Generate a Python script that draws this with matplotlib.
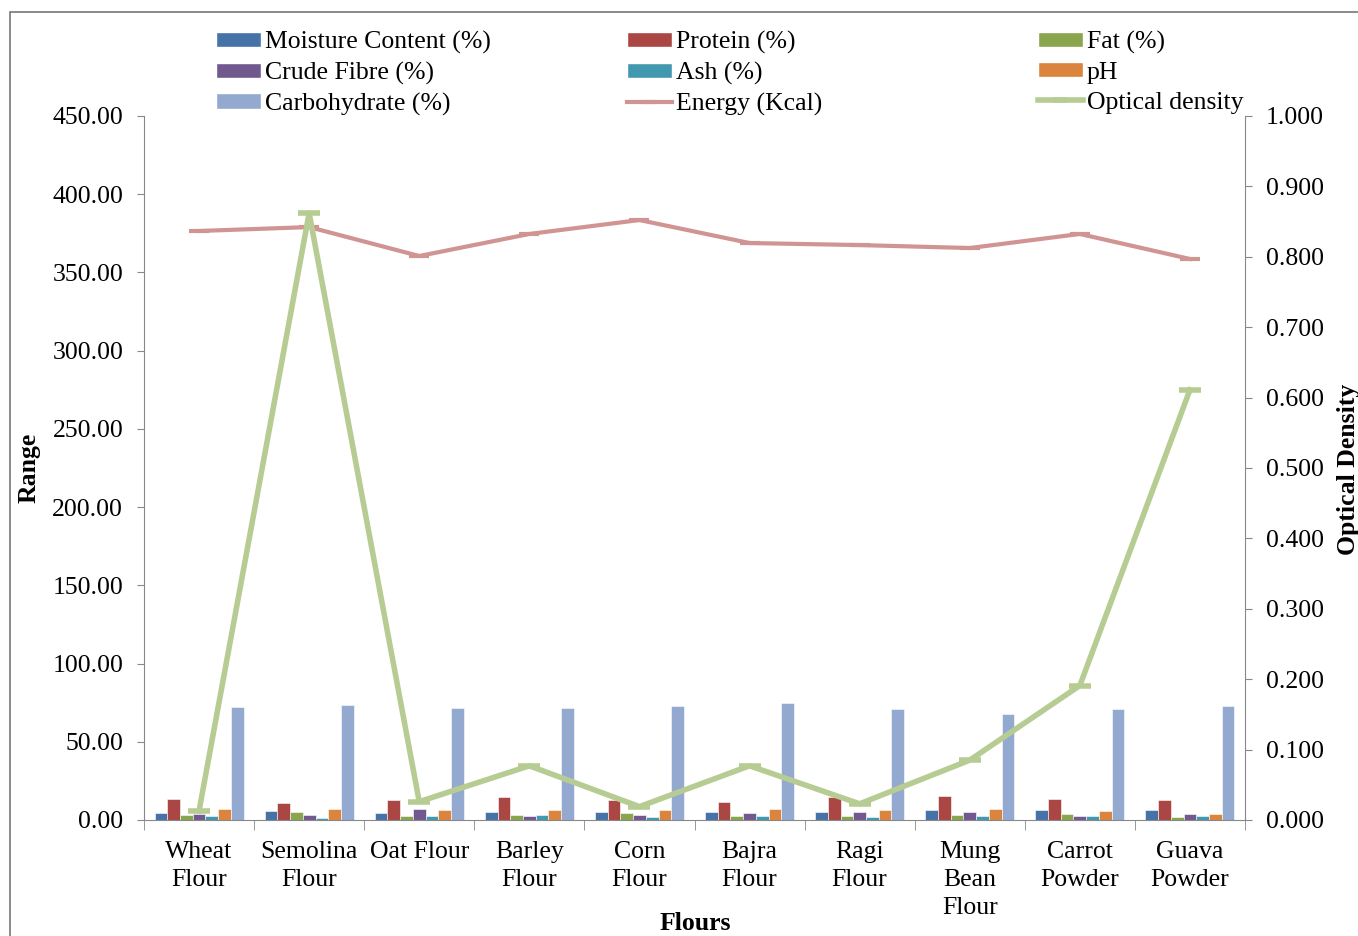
import matplotlib
matplotlib.use("Agg")
import matplotlib.pyplot as plt
import numpy as np
from matplotlib.patches import Rectangle, Patch
from matplotlib.lines import Line2D

plt.rcParams['font.family'] = ['Liberation Serif', 'DejaVu Serif']
plt.rcParams['font.size'] = 18.5

categories = ["Wheat\nFlour", "Semolina\nFlour", "Oat Flour", "Barley\nFlour", "Corn\nFlour",
              "Bajra\nFlour", "Ragi\nFlour", "Mung\nBean\nFlour", "Carrot\nPowder", "Guava\nPowder"]

moisture = [4.3, 5.5, 4.3, 4.9, 4.9, 4.9, 4.9, 6.2, 6.2, 6.2]
protein = [13.4, 10.9, 12.8, 14.7, 12.8, 11.5, 14.7, 15.3, 13.4, 12.8]
fat = [3.4, 4.9, 2.8, 3.4, 4.7, 2.8, 2.8, 3.4, 4.0, 2.1]
crude_fibre = [4.0, 3.4, 6.8, 2.8, 3.4, 4.3, 4.9, 4.9, 2.8, 4.0]
ash = [2.3, 1.5, 2.8, 3.4, 2.1, 2.3, 2.1, 2.8, 2.8, 2.8]
ph = [6.8, 6.8, 6.2, 6.2, 6.2, 7.0, 6.2, 6.8, 5.5, 4.0]
carbohydrate = [72.2, 73.5, 71.4, 71.4, 72.9, 74.8, 70.7, 67.5, 70.7, 72.9]
energy = [376.5, 379.0, 360.5, 374.6, 383.5, 368.8, 367.5, 365.6, 374.6, 358.6]
optical_density = [0.013, 0.862, 0.026, 0.077, 0.019, 0.077, 0.023, 0.085, 0.191, 0.611]

bar_series = [
    ("Moisture Content (%)", moisture, "#4572A7"),
    ("Protein (%)", protein, "#AA4643"),
    ("Fat (%)", fat, "#89A54E"),
    ("Crude Fibre (%)", crude_fibre, "#71588F"),
    ("Ash (%)", ash, "#4198AF"),
    ("pH", ph, "#DB843D"),
    ("Carbohydrate (%)", carbohydrate, "#93A9CF"),
]
energy_color = "#D09493"
od_color = "#B7CC93"

fig = plt.figure(figsize=(13.58, 9.36), dpi=100)
ax = fig.add_axes([144/1358, 1-820/936, (1245-144)/1358, (820-116)/936])

x = np.arange(len(categories))
n = len(bar_series)
bw = 1.0 / (n + 1.65)
handles = {}
for i, (name, vals, col) in enumerate(bar_series):
    off = (i - (n - 1) / 2) * bw
    ax.bar(x + off, vals, bw, color=col, edgecolor="white", linewidth=0.4, zorder=2)
    handles[name] = Patch(facecolor=col, edgecolor="white")

ax.plot(x, energy, color=energy_color, lw=3, marker="_", ms=14, mew=3, zorder=3)
handles["Energy (Kcal)"] = Line2D([], [], color=energy_color, lw=3, marker="_", ms=10, mew=3)

ax.set_xlim(-0.5, len(categories) - 0.5)
ax.set_ylim(0, 450)
ax.set_yticks(np.arange(0, 451, 50))
ax.set_yticklabels([f"{v:.2f}" for v in np.arange(0, 451, 50)])
ax.set_xticks(x)
ax.set_xticklabels(categories, linespacing=1.35)
ax.set_xticks(np.arange(-0.5, len(categories), 1), minor=True)
ax.tick_params(axis="x", which="major", length=0, pad=15)
ax.tick_params(axis="x", which="minor", length=7, color="#888888", direction="out")
ax.tick_params(axis="y", length=5, color="#888888", direction="out", pad=10)
for s in ["top", "right"]:
    ax.spines[s].set_visible(False)
for s in ["left", "bottom"]:
    ax.spines[s].set_color("#888888")

ax2 = ax.twinx()
ax2.plot(x, optical_density, color=od_color, lw=4, marker="_", ms=16, mew=4, zorder=4)
handles["Optical density"] = Line2D([], [], color=od_color, lw=4, marker="_", ms=10, mew=4)
ax2.set_ylim(0, 1.0)
ax2.set_yticks(np.arange(0, 1.01, 0.1))
ax2.set_yticklabels([f"{v:.3f}" for v in np.arange(0, 1.01, 0.1)])
ax2.tick_params(axis="y", length=5, color="#888888", direction="out", pad=10)
for s in ["top", "left", "bottom"]:
    ax2.spines[s].set_visible(False)
ax2.spines["right"].set_color("#888888")

ax.set_ylabel("Range", fontweight="bold")
ax.yaxis.set_label_coords(-(144 - 41) / 1101, (820 - 468) / 704)
ax2.set_ylabel("Optical Density", fontweight="bold", rotation=90)
ax2.yaxis.set_label_coords(1.0 + (1337 - 1245) / 1101, (820 - 469) / 704)
ax.set_xlabel("Flours", fontweight="bold")
ax.xaxis.set_label_coords((695 - 144) / 1101, -(912 - 820) / 704)

legend_cols = [
    (["Moisture Content (%)", "Crude Fibre (%)", "Carbohydrate (%)"], 216),
    (["Protein (%)", "Ash (%)", "Energy (Kcal)"], 627),
    (["Fat (%)", "pH", "Optical density"], 1038),
]
for names, px in legend_cols:
    fig.legend([handles[nm] for nm in names], names, loc="upper left",
               bbox_to_anchor=(px / 1358, 1 - 31 / 936), frameon=False,
               handlelength=1.75, handleheight=0.55, handletextpad=0.15,
               labelspacing=0.3, borderpad=0, borderaxespad=0)

fig.patches.append(Rectangle((10 / 1358, -0.01), 1.1, 1 - 12 / 936 + 0.01,
                             transform=fig.transFigure, fill=False,
                             edgecolor="#777777", lw=1.2))

fig.savefig("out.png", dpi=100)
